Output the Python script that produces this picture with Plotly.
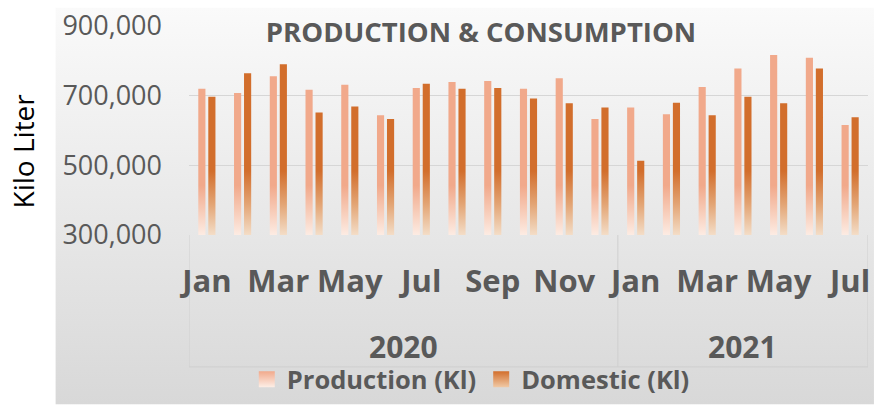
import base64

import plotly.graph_objects as go

MONTHS = ["Jan", "Feb", "Mar", "Apr", "May", "Jun", "Jul", "Aug", "Sep", "Oct", "Nov", "Dec",
          "Jan", "Feb", "Mar", "Apr", "May", "Jun", "Jul"]
YEARS = ["2020", "2021"]
YEAR_MONTHS = [12, 7]

PRODUCTION = [720000, 708000, 756000, 717000, 731000, 644000, 722000, 739000, 742000, 720000,
              750000, 633000, 666000, 647000, 725000, 778000, 817000, 809000, 616000]
DOMESTIC = [697000, 764000, 790000, 652000, 669000, 633000, 734000, 720000, 722000, 692000,
            678000, 666000, 513000, 680000, 644000, 697000, 678000, 778000, 638000]

Y_TICKS = [300000, 500000, 700000, 900000]
Y_MIN, Y_MAX = 300000, 900000

GRAY = "#595959"
FONT = "Open Sans"
PROD_COLOR = "#f1a98b"
DOM_COLOR = "#d26e2c"


def bar_outline(values, offset, half_width=0.1, base=Y_MIN):
    """Rectangles for each month, split by None so fill='toself' closes each one."""
    xs, ys = [], []
    for i, v in enumerate(values):
        x0, x1 = i + offset - half_width, i + offset + half_width
        xs += [x0, x1, x1, x0, None]
        ys += [base, base, v, v, None]
    return xs, ys


def gradient_trace(values, offset, name, colorscale):
    xs, ys = bar_outline(values, offset)
    return go.Scatter(
        x=xs,
        y=ys,
        name=name,
        legendgroup=name,
        showlegend=False,
        mode="lines",
        fill="toself",
        line=dict(width=0, color="rgba(0,0,0,0)"),
        fillgradient=dict(type="vertical", start=Y_MIN, stop=Y_MAX, colorscale=colorscale),
        hoverinfo="skip",
    )


def legend_swatch(name, color, fade):
    # empty trace, only here to give the legend a square that fades downward
    return go.Scatter(
        x=[None], y=[None], name=name, legendgroup=name, mode="markers",
        marker=dict(symbol="square", size=17, color=color,
                    gradient=dict(type="vertical", color=fade)),
    )


fig = go.Figure()
fig.add_trace(gradient_trace(
    PRODUCTION, -0.14, "Production (Kl)",
    [[0, "#fdede5"], [0.12, "#f7cbb7"], [0.24, PROD_COLOR], [1, PROD_COLOR]],
))
fig.add_trace(gradient_trace(
    DOMESTIC, 0.14, "Domestic (Kl)",
    [[0, "#f4dfca"], [0.15, "#e3a575"], [0.31, DOM_COLOR], [1, DOM_COLOR]],
))
fig.add_trace(legend_swatch("Production (Kl)", PROD_COLOR, "#fdeee6"))
fig.add_trace(legend_swatch("Domestic (Kl)", DOM_COLOR, "#f0c9a5"))

# soft gray backdrop like the spreadsheet chart area
svg = (
    '<svg xmlns="http://www.w3.org/2000/svg" width="10" height="100" preserveAspectRatio="none">'
    '<defs><linearGradient id="g" x1="0" y1="0" x2="0" y2="1">'
    '<stop offset="0" stop-color="#fafafa"/><stop offset="1" stop-color="#d8d8d8"/>'
    '</linearGradient></defs><rect width="10" height="100" fill="url(#g)"/></svg>'
)
bg_src = "data:image/svg+xml;base64," + base64.b64encode(svg.encode()).decode()
fig.add_layout_image(
    source=bg_src, xref="paper", yref="paper", x=-0.1968, y=1.0888,
    sizex=1.2056, sizey=1.9, sizing="stretch", layer="below",
    xanchor="left", yanchor="top",
)

# category table lines under the month labels
line_style = dict(color="#cfcfcf", width=1)
edges = [-0.5]
for n in YEAR_MONTHS:
    edges.append(edges[-1] + n)
for e in edges:
    fig.add_shape(type="line", xref="x", yref="paper", x0=e, x1=e, y0=0, y1=-0.631,
                  line=line_style, layer="below")
fig.add_shape(type="line", xref="x", yref="paper", x0=edges[0], x1=edges[-1],
              y0=-0.631, y1=-0.631, line=line_style, layer="below")

for yr, lo, hi in zip(YEARS, edges[:-1], edges[1:]):
    fig.add_annotation(
        text=yr, x=(lo + hi) / 2, xref="x", y=-0.533, yref="paper",
        showarrow=False, yanchor="middle",
        font=dict(family=FONT, size=30, color=GRAY, weight="bold"),
    )

fig.add_annotation(
    text="Kilo Liter", x=-0.2438, xref="paper", y=0.402, yref="paper",
    textangle=-90, showarrow=False, xanchor="center", yanchor="middle",
    font=dict(family=FONT, size=28, color="black"),
)

fig.update_layout(
    width=876,
    height=409,
    margin=dict(l=189, r=6, t=24, b=171),
    paper_bgcolor="white",
    plot_bgcolor="rgba(0,0,0,0)",
    title=dict(
        text="PRODUCTION & CONSUMPTION", x=481 / 876, xanchor="center",
        y=1 - 32 / 409, yanchor="middle",
        font=dict(family=FONT, size=27.5, color=GRAY, weight="bold"),
    ),
    showlegend=True,
    legend=dict(
        orientation="h", x=0.415, xanchor="center", y=-0.692, yanchor="middle",
        font=dict(family=FONT, size=25.5, color=GRAY, weight="bold"),
        bgcolor="rgba(0,0,0,0)", itemwidth=30,
    ),
)
fig.update_xaxes(
    range=[-0.5, 18.5],
    tickvals=list(range(0, len(MONTHS), 2)),
    ticktext=MONTHS[::2],
    tickfont=dict(family=FONT, size=31, color=GRAY, weight="bold"),
    ticklabelstandoff=25,
    showgrid=False,
    zeroline=False,
    showline=False,
    ticks="",
)
fig.update_yaxes(
    range=[Y_MIN, Y_MAX],
    tickvals=Y_TICKS,
    tickformat=",",
    tickfont=dict(family=FONT, size=27, color=GRAY),
    ticklabelstandoff=26,
    gridcolor="#d6d6d6",
    gridwidth=1,
    zeroline=False,
    showline=False,
    ticks="",
)

fig.write_html(
    "out.html",
    config={"displayModeBar": False},
    post_script="document.body.style.margin='0';",
)
